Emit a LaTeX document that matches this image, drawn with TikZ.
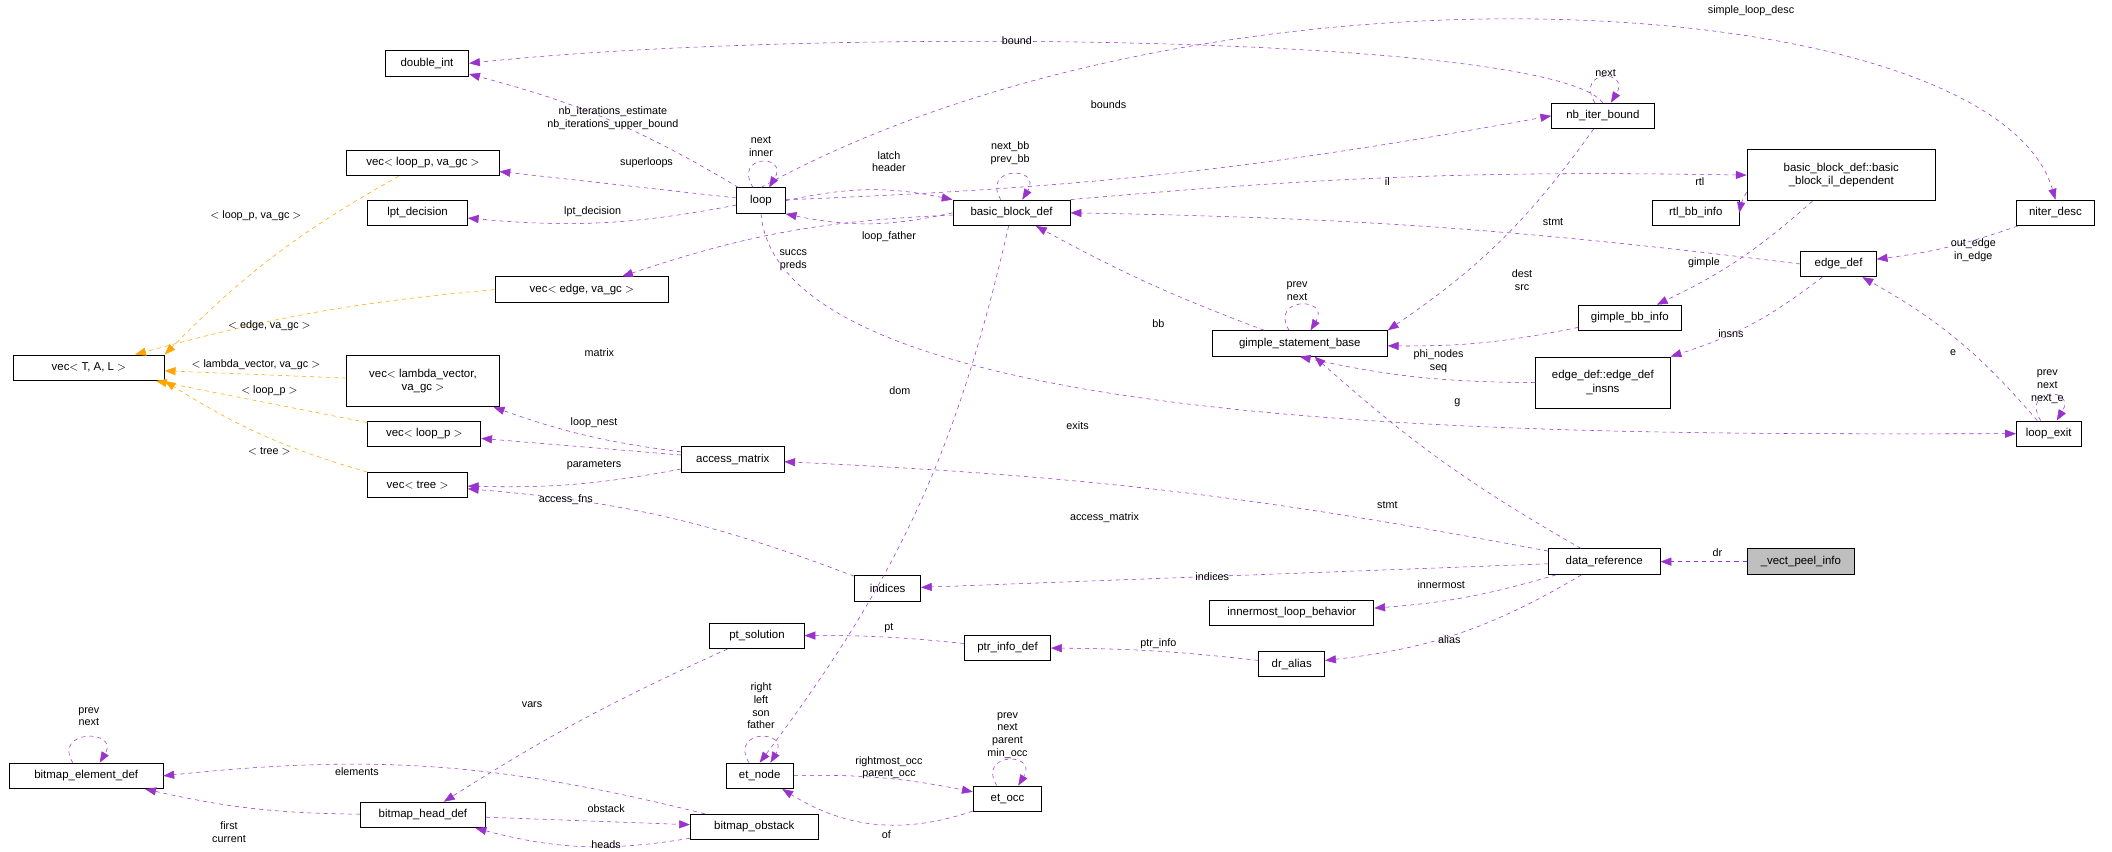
\documentclass[tikz,border=0pt]{standalone}
\usepackage{fontspec}
\setmainfont{Liberation Sans}
\usetikzlibrary{arrows.meta}
\definecolor{pur}{HTML}{9A32CD}
\definecolor{org}{HTML}{FFA500}
\begin{document}
\begin{tikzpicture}[x=1pt,y=-1pt,
 box/.style={draw,semithick,fill=white,inner sep=1pt,minimum height=19pt,font=\fontsize{8.5}{10}\selectfont,align=center},
 e/.style={draw=pur,dashed,-{Triangle[length=8pt,width=6pt,fill=pur]}},
 o/.style={draw=org,dashed,-{Triangle[length=8pt,width=6pt,fill=org]}},
 lb/.style={font=\fontsize{8}{9.5}\selectfont,align=center,inner sep=0pt}]
\fill[white] (0,0) rectangle (1568,632);
\useasboundingbox (0,0) rectangle (1568,632);
% nodes
\node[box,minimum width=62pt] (di) at (317,47) {double\_int};
\node[box,minimum width=113pt] (vlpg) at (314,121) {vec$<$ loop\_p, va\_gc $>$};
\node[box,minimum width=74pt] (lpt) at (310,158) {lpt\_decision};
\node[box,minimum width=129pt] (veg) at (432,215) {vec$<$ edge, va\_gc $>$};
\node[box,minimum width=112pt] (vtal) at (66,273) {vec$<$ T, A, L $>$};
\node[box,minimum width=113pt,minimum height=38pt] (vlv) at (314,283) {vec$<$ lambda\_vector,\\ va\_gc $>$};
\node[box,minimum width=84pt] (vlp) at (315,322) {vec$<$ loop\_p $>$};
\node[box,minimum width=74pt] (vt) at (310,360) {vec$<$ tree $>$};
\node[box,minimum width=36pt] (loop) at (565,149) {loop};
\node[box,minimum width=87pt] (bbd) at (751,158) {basic\_block\_def};
\node[box,minimum width=76pt] (am) at (544,341) {access\_matrix};
\node[box,minimum width=76pt] (nib) at (1190,86) {nb\_iter\_bound};
\node[box,minimum width=140pt,minimum height=38pt] (bbil) at (1367,130) {basic\_block\_def::basic\\ \_block\_il\_dependent};
\node[box,minimum width=64pt] (rtl) at (1259,158) {rtl\_bb\_info};
\node[box,minimum width=76pt] (gbb) at (1210,236) {gimple\_bb\_info};
\node[box,minimum width=130pt] (gsb) at (965,255) {gimple\_statement\_base};
\node[box,minimum width=100pt,minimum height=38pt] (edi) at (1190,284) {edge\_def::edge\_def\\ \_insns};
\node[box,minimum width=56pt] (ed) at (1365,196) {edge\_def};
\node[box,minimum width=58pt] (nd) at (1526,158) {niter\_desc};
\node[box,minimum width=48pt] (le) at (1521,322) {loop\_exit};
\node[box,minimum width=83pt] (dr) at (1191,417) {data\_reference};
\node[box,minimum width=80pt,fill=black!25] (vpi) at (1337,417) {\_vect\_peel\_info};
\node[box,minimum width=49pt] (ind) at (659,437) {indices};
\node[box,minimum width=122pt] (ilb) at (959,455) {innermost\_loop\_behavior};
\node[box,minimum width=70pt] (pts) at (562,472) {pt\_solution};
\node[box,minimum width=64pt] (pid) at (748,481) {ptr\_info\_def};
\node[box,minimum width=49pt] (da) at (959,493) {dr\_alias};
\node[box,minimum width=114pt] (bed) at (64,576) {bitmap\_element\_def};
\node[box,minimum width=50pt] (et) at (564,576) {et\_node};
\node[box,minimum width=51pt] (eo) at (748,593) {et\_occ};
\node[box,minimum width=93pt] (bhd) at (314,605) {bitmap\_head\_def};
\node[box,minimum width=95pt] (bo) at (560,614) {bitmap\_obstack};
% orange
\draw[o] (vlpg) to[bend right=8] (vtal.north east) node[lb] at (190,160) {$<$ loop\_p, va\_gc $>$};
\draw[o] (veg.west) to[bend right=5] (vtal) node[lb] at (200,242) {$<$ edge, va\_gc $>$};
\draw[o] (vlv) -- (vtal) node[lb] at (190,271) {$<$ lambda\_vector, va\_gc $>$};
\draw[o] (vlp) -- (vtal) node[lb] at (200,290) {$<$ loop\_p $>$};
\draw[o] (vt) to[bend left=8] (vtal.south east) node[lb] at (200,335) {$<$ tree $>$};
% purple
\draw[e] (loop) to[bend right=8] (di) node[lb] at (455,88) {nb\_iterations\_estimate\\nb\_iterations\_upper\_bound};
\draw[e] (nib.north) .. controls (1150,25) and (600,20) .. (di.east) node[lb] at (755,30) {bound};
\draw[e] ([xshift=-6pt]nib.north) .. controls +(-15,-25) and +(15,-25) .. ([xshift=6pt]nib.north) node[lb] at (1192,54) {next};
\draw[e] (loop.north) .. controls (900,-45) and (1480,-10) .. (nd.north) node[lb] at (1300,8) {simple\_loop\_desc};
\draw[e] ([xshift=-6pt]loop.north) .. controls +(-15,-25) and +(15,-25) .. ([xshift=6pt]loop.north) node[lb] at (565,109) {next\\inner};
\draw[e] (loop) to[bend right=4] (nib.west) node[lb] at (823,78) {bounds};
\draw[e] (loop) -- (vlpg) node[lb] at (480,121) {superloops};
\draw[e] (loop) to[bend left=8] (lpt) node[lb] at (440,157) {lpt\_decision};
\draw[e] (loop.east) to[bend left=12] (bbd.north west) node[lb] at (660,120) {latch\\header};
\draw[e] (bbd.west) to[bend left=12] (loop.south east) node[lb] at (660,176) {loop\_father};
\draw[e] ([xshift=-8pt]bbd.north) .. controls +(-15,-25) and +(15,-25) .. ([xshift=8pt]bbd.north) node[lb] at (750,114) {next\_bb\\prev\_bb};
\draw[e] (bbd) to[bend right=8] (veg) node[lb] at (589,193) {succs\\preds};
\draw[e] (bbd.north east) to[bend left=3] (bbil.west) node[lb] at (1030,135) {il};
\draw[e] (bbd) to[bend left=12] (et.north) node[lb] at (668,290) {dom};
\draw[e] (nib) to[bend left=10] (gsb.north east) node[lb] at (1153,165) {stmt};
\draw[e] (bbil) to[bend right=10] (rtl.east) node[lb] at (1262,135) {rtl};
\draw[e] (bbil) to[bend left=8] (gbb) node[lb] at (1265,195) {gimple};
\draw[e] (gbb) to[bend left=6] (gsb) node[lb] at (1068,268) {phi\_nodes\\seq};
\draw[e] (gsb) to[bend left=4] (bbd) node[lb] at (860,240) {bb};
\draw[e] ([xshift=-8pt]gsb.north) .. controls +(-15,-25) and +(15,-25) .. ([xshift=8pt]gsb.north) node[lb] at (963,216) {prev\\next};
\draw[e] (edi.west) to[bend left=6] (gsb.south) node[lb] at (1082,299) {g};
\draw[e] (ed) to[bend left=10] (edi.north east) node[lb] at (1285,248) {insns};
\draw[e] (ed.west) to[bend right=3] (bbd.east) node[lb] at (1130,208) {dest\\src};
\draw[e] (nd) to[bend left=6] (ed) node[lb] at (1465,186) {out\_edge\\in\_edge};
\draw[e] (le) to[bend right=10] (ed) node[lb] at (1450,262) {e};
\draw[e] ([xshift=-6pt]le.north) .. controls +(-15,-25) and +(15,-25) .. ([xshift=6pt]le.north) node[lb] at (1520,287) {prev\\next\\next\_e};
\draw[e] (loop.south) .. controls (580,330) and (1200,322) .. (le.west) node[lb] at (800,316) {exits};
\draw[e] (am) to[bend left=6] (vlv) node[lb] at (445,262) {matrix};
\draw[e] (am) -- (vlp) node[lb] at (441,314) {loop\_nest};
\draw[e] (am) to[bend left=6] (vt) node[lb] at (441,345) {parameters};
\draw[e] (ind) to[bend right=8] (vt) node[lb] at (420,371) {access\_fns};
\draw[e] (dr) to[bend right=4] (am) node[lb] at (820,384) {access\_matrix};
\draw[e] (dr) to[bend left=6] (gsb) node[lb] at (1030,375) {stmt};
\draw[e] (vpi) -- (dr) node[lb] at (1275,410) {dr};
\draw[e] (dr) -- (ind) node[lb] at (900,428) {indices};
\draw[e] (dr) to[bend left=6] (ilb) node[lb] at (1070,434) {innermost};
\draw[e] (dr) to[bend left=12] (da) node[lb] at (1076,475) {alias};
\draw[e] (da) to[bend right=3] (pid) node[lb] at (860,478) {ptr\_info};
\draw[e] (pid) to[bend right=3] (pts) node[lb] at (660,466) {pt};
\draw[e] (pts) to[bend right=4] (bhd) node[lb] at (395,523) {vars};
\draw[e] ([xshift=-8pt]et.north) .. controls +(-15,-25) and +(15,-25) .. ([xshift=8pt]et.north) node[lb] at (565,524) {right\\left\\son\\father};
\draw[e] (et) to[bend left=6] (eo) node[lb] at (660,570) {rightmost\_occ\\parent\_occ};
\draw[e] (eo) to[bend left=25] (et) node[lb] at (658,620) {of};
\draw[e] ([xshift=-8pt]eo.north) .. controls +(-15,-25) and +(15,-25) .. ([xshift=8pt]eo.north) node[lb] at (748,546) {prev\\next\\parent\\min\_occ};
\draw[e] (bo) to[bend right=10] (bed.east) node[lb] at (265,573) {elements};
\draw[e] (bhd) to[bend left=6] (bed) node[lb] at (170,618) {first\\current};
\draw[e] (bhd) -- (bo) node[lb] at (450,600) {obstack};
\draw[e] (bo) to[bend left=12] (bhd) node[lb] at (450,627) {heads};
\draw[e] ([xshift=-10pt]bed.north) .. controls +(-15,-25) and +(15,-25) .. ([xshift=10pt]bed.north) node[lb] at (66,532) {prev\\next};
\end{tikzpicture}
\end{document}
